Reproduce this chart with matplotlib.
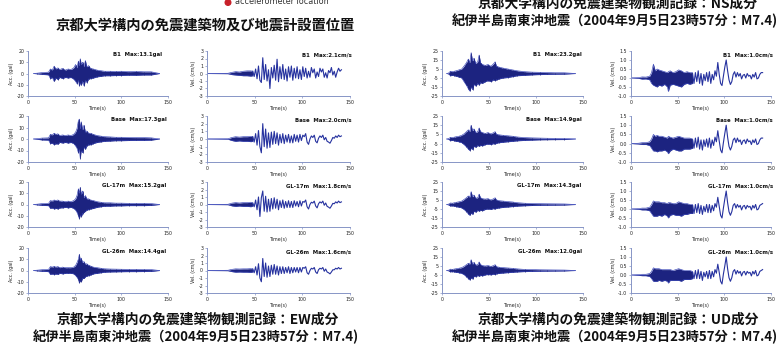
import numpy as np
import matplotlib
matplotlib.use("Agg")
import matplotlib.pyplot as plt
from matplotlib.patches import Circle
from matplotlib.ticker import FormatStrFormatter

# ---------------------------------------------------------------------------
# Record data (EW component, left block)
# ---------------------------------------------------------------------------
T_ACC_EW = [6, 10, 15, 22, 24, 26, 28, 30, 32, 34,
            37, 40, 43, 46, 49, 51, 52.5, 54, 55, 56,
            57, 58.5, 60, 61.5, 63, 65, 67, 70, 74, 78,
            82, 88, 94, 100, 108, 116, 124, 132, 141]

ew_acc_b1_up = [0, 0.3, 0.8, 1.2, 4, 3, 6.5, 4, 5, 3.5,
                4.5, 3, 4, 3.5, 5, 8, 5, 11, 7, 13.1,
                8, 10, 6, 11.5, 6, 7, 4.5, 4, 3, 2.5,
                2, 2, 1.8, 2, 1.6, 1.8, 1.5, 1.5, 0]
ew_acc_b1_lo = [0, -0.3, -0.8, -1.2, -4.5, -3.5, -7, -4, -5.5, -3.5,
                -4.5, -3.5, -4, -3.5, -5, -7, -9, -6, -11, -8,
                -10.5, -7, -11, -6, -8, -5, -4.5, -4, -3, -2.5,
                -2, -2, -1.8, -1.8, -1.5, -1.6, -1.3, -1.3, 0]

ew_acc_base_up = [0, 0.3, 0.8, 1, 4, 3.5, 5, 4, 4.5, 3,
                  3.5, 3, 3.5, 3, 4, 6, 9, 16, 17.3, 9,
                  15, 8, 12, 6, 7, 5, 5, 4, 3, 2.5,
                  2, 1.8, 1.5, 1.5, 1.3, 1.2, 1.2, 1, 0]
ew_acc_base_lo = [0, -0.3, -0.8, -1, -4, -3.5, -5, -4, -4.5, -3,
                  -3.5, -3, -3.5, -3, -4, -6, -8, -12, -9, -17,
                  -10, -12, -7, -9, -6, -5, -5, -4, -3, -2.5,
                  -2, -1.8, -1.5, -1.5, -1.3, -1.2, -1.2, -1, 0]

ew_acc_gl17_up = [0, 0.3, 0.8, 1, 3.5, 3, 4, 3.5, 4, 3,
                  3, 2.5, 3, 2.5, 3.5, 5, 8, 14, 10, 15.2,
                  9, 12, 6, 8, 5, 5, 4, 3.5, 2.5, 2,
                  1.5, 1.5, 1.2, 1.2, 1, 1, 1, 0.8, 0]
ew_acc_gl17_lo = [0, -0.3, -0.8, -1, -3.5, -3, -4, -3.5, -4, -3,
                  -3, -2.5, -3, -2.5, -3.5, -5, -7, -10, -12.6, -9,
                  -11, -8, -7, -6, -5, -4.5, -4, -3.5, -2.5, -2,
                  -1.5, -1.5, -1.2, -1.2, -1, -1, -1, -0.8, 0]

ew_acc_gl26_up = [0, 0.3, 0.7, 1, 3.5, 3, 3.6, 3, 3.5, 2.5,
                  3, 2.5, 2.5, 2.5, 3, 4.5, 7, 10, 14.4, 9,
                  11, 7, 8, 5.5, 6, 4.5, 4, 3, 2.5, 2,
                  1.5, 1.3, 1.2, 1.1, 1, 1, 0.9, 0.8, 0]
ew_acc_gl26_lo = [0, -0.3, -0.7, -1, -3.5, -3, -3.6, -3, -3.5, -2.5,
                  -3, -2.5, -2.5, -2.5, -3, -4.5, -6, -8, -11, -9,
                  -10, -7, -7, -5.5, -5, -4.5, -4, -3, -2.5, -2,
                  -1.5, -1.3, -1.2, -1.1, -1, -1, -0.9, -0.8, 0]

# velocity: small-amplitude envelope before the main phase, then the trace
T_VEL_PRE_EW = [0, 22, 26, 30, 34, 38, 42, 46, 48]
ew_vel_b1_pre_up = [0, 0.03, 0.15, 0.25, 0.2, 0.3, 0.35, 0.35, 0.3]
ew_vel_b1_pre_lo = [0, -0.03, -0.15, -0.2, -0.25, -0.3, -0.3, -0.35, -0.3]
ew_vel_base_pre_up = [0, 0.03, 0.2, 0.3, 0.25, 0.3, 0.3, 0.35, 0.3]
ew_vel_base_pre_lo = [0, -0.03, -0.2, -0.3, -0.25, -0.3, -0.3, -0.35, -0.3]
ew_vel_gl17_pre_up = [0, 0.03, 0.18, 0.25, 0.2, 0.25, 0.25, 0.3, 0.2]
ew_vel_gl17_pre_lo = [0, -0.03, -0.18, -0.25, -0.2, -0.25, -0.25, -0.3, -0.2]
ew_vel_gl26_pre_up = [0, 0.03, 0.15, 0.22, 0.2, 0.22, 0.22, 0.25, 0.2]
ew_vel_gl26_pre_lo = [0, -0.03, -0.15, -0.22, -0.2, -0.22, -0.22, -0.25, -0.2]

T_VEL_EW = np.arange(48, 141.1, 1.5)
ew_vel_b1 = [0.3, -0.4, 0.6, -0.7, 1.0, -0.9, -1.2, 2.1, -0.8, 1.2,
             -1.0, 0.5, -2.0, 0.8, -0.6, 1.1, -0.9, 1.9, -1.1, 0.9,
             -0.7, 1.2, -0.8, 0.6, -1.0, 0.9, -0.5, 1.0, -0.9, 0.7,
             -0.6, 0.9, -0.7, 0.5, -0.8, 0.9, -0.4, 0.7, -0.6, 0.3,
             -0.5, 0.8, 0.1, 0.6, -0.6, 0.2, -0.4, 0.7, 0.2, 0.6,
             -0.5, 0.1, -0.6, 0.4, 0.1, 0.8, -0.2, 0.3, -0.5, 0.2,
             0.7, 0.3, 0.5]
ew_vel_base = [0.3, -0.4, 0.7, -0.8, 1.1, -1.0, -1.8, 2.0, -1.0, 1.3,
               -1.2, 0.8, -1.1, 0.9, -0.7, 1.0, -0.6, 0.8, -0.8, 0.6,
               -0.5, 0.7, -0.6, 0.5, -0.4, 0.6, -0.5, 0.4, -0.5, 0.6,
               -0.3, 0.5, -0.4, 0.6, -0.2, 0.5, 0.3, 0.7, -0.4, -0.7,
               0.0, 0.4, 0.2, 0.5, -0.3, -0.5, 0.1, 0.4, 0.2, 0.5,
               -0.1, 0.2, -0.3, -0.4, -0.55, -0.2, 0.2, 0.1, 0.4, 0.2,
               0.5, 0.3, 0.4]
ew_vel_gl17 = [0.2, -0.3, 0.6, -0.7, 1.0, -1.6, 0.9, 1.8, -0.9, 1.1,
               -1.0, 0.7, -0.9, 0.8, -0.6, 0.9, -0.5, 0.7, -0.7, 0.5,
               -0.4, 0.6, -0.5, 0.4, -0.4, 0.5, -0.4, 0.4, -0.4, 0.5,
               -0.2, 0.4, -0.3, 0.5, -0.2, 0.4, 0.3, 0.6, -0.3, -0.6,
               0.0, 0.3, 0.2, 0.45, -0.2, -0.45, 0.1, 0.35, 0.2, 0.45,
               -0.1, 0.2, -0.25, -0.35, -0.5, -0.2, 0.15, 0.1, 0.35, 0.2,
               0.45, 0.25, 0.35]
ew_vel_gl26 = [0.2, -0.3, 0.5, -0.6, 0.9, -1.0, -1.5, 1.6, -0.8, 1.0,
               -0.9, 0.6, -0.8, 0.7, -0.5, 0.8, -0.5, 0.6, -0.6, 0.5,
               -0.4, 0.5, -0.4, 0.4, -0.3, 0.5, -0.4, 0.4, -0.3, 0.4,
               -0.2, 0.4, -0.3, 0.4, -0.2, 0.4, 0.3, 0.5, -0.3, -0.5,
               0.0, 0.3, 0.2, 0.4, -0.2, -0.4, 0.1, 0.3, 0.2, 0.4,
               -0.1, 0.2, -0.2, -0.3, -0.45, -0.2, 0.1, 0.1, 0.3, 0.2,
               0.4, 0.2, 0.3]

# ---------------------------------------------------------------------------
# Record data (right block)
# ---------------------------------------------------------------------------
T_ACC_UD = [5, 7, 9, 11, 13, 15, 18, 21, 24, 26,
            28, 29.5, 31, 32.5, 34, 36, 38, 39.5, 41, 43,
            46, 49, 52, 55, 56.5, 58, 61, 65, 70, 75,
            80, 88, 96, 104, 112, 120, 130, 142]

ud_acc_b1_up = [0, 0.5, 2.5, 2, 2.5, 3, 4, 5, 9, 12,
                16, 12, 23.2, 14, 17, 11, 13, 20.5, 12, 10,
                9, 10, 8, 11, 13, 8, 7, 6, 5, 4,
                3, 2, 1.5, 1.3, 1, 0.8, 0.8, 0]
ud_acc_b1_lo = [0, -0.5, -2.5, -2, -2.5, -3, -4, -5, -10, -13,
                -17, -19.5, -15, -18, -12, -14, -11, -13, -10, -11,
                -9, -8, -9, -7, -8, -7, -6, -5, -4.5, -3.5,
                -2.5, -2, -1.5, -1.2, -1, -0.8, -0.7, 0]
ud_acc_base_up = [0, 0.4, 1.8, 1.5, 2, 2.5, 3, 4, 6, 8,
                  10, 8, 14.9, 9, 11, 7, 8, 12, 8, 7,
                  6, 7, 5.5, 7, 8, 5, 4.5, 4, 3.5, 3,
                  2.2, 1.5, 1.2, 1, 0.8, 0.7, 0.6, 0]
ud_acc_base_lo = [0, -0.4, -1.8, -1.5, -2, -2.5, -3, -4, -6.5, -8.5,
                  -11, -12.5, -10, -11.5, -8, -9, -7, -8, -7, -7.5,
                  -6, -5.5, -6, -5, -5.5, -4.5, -4, -3.5, -3, -2.5,
                  -2, -1.5, -1.2, -0.9, -0.8, -0.7, -0.6, 0]
ud_acc_gl17_up = [0, 0.4, 1.7, 1.4, 1.9, 2.4, 3, 3.8, 6, 7.5,
                  9.5, 8, 14.3, 8.5, 10.5, 7, 7.5, 11.5, 7.5, 6.5,
                  6, 6.5, 5, 6.5, 7.5, 5, 4.2, 3.8, 3.2, 2.8,
                  2, 1.4, 1.1, 0.9, 0.8, 0.7, 0.6, 0]
ud_acc_gl17_lo = [0, -0.4, -1.7, -1.4, -1.9, -2.4, -3, -3.8, -6, -8,
                  -10.5, -12, -9.5, -11, -7.5, -8.5, -6.5, -7.5, -6.5, -7,
                  -5.5, -5, -5.5, -4.5, -5, -4.2, -3.8, -3.2, -2.8, -2.3,
                  -1.8, -1.4, -1.1, -0.9, -0.8, -0.7, -0.6, 0]
ud_acc_gl26_up = [0, 0.3, 1.5, 1.2, 1.6, 2, 2.5, 3.2, 5, 6.5,
                  8, 7, 12.0, 7, 9, 6, 6.5, 9.5, 6.5, 5.5,
                  5, 5.5, 4.5, 5.5, 6.5, 4.2, 3.6, 3.2, 2.8, 2.4,
                  1.8, 1.2, 1, 0.8, 0.7, 0.6, 0.5, 0]
ud_acc_gl26_lo = [0, -0.3, -1.5, -1.2, -1.6, -2, -2.5, -3.2, -5, -7,
                  -9, -10.5, -8, -9.5, -6.5, -7, -5.5, -6.5, -5.5, -6,
                  -4.8, -4.5, -4.8, -4, -4.5, -3.6, -3.2, -2.8, -2.4, -2,
                  -1.6, -1.2, -1, -0.8, -0.7, -0.6, -0.5, 0]

T_VEL_PRE_UD = [0, 8, 12, 16, 20, 22, 24, 26, 28, 30,
                33, 36, 39, 40, 42, 45, 48, 51, 54, 57,
                60, 63, 66]
ud_vel_b1_pre_up = [0, 0.02, 0.06, 0.05, 0.1, 0.3, 0.77, 0.4, 0.5, 0.45,
                    0.4, 0.35, 0.3, 0.35, 0.4, 0.3, 0.35, 0.45, 0.4, 0.3,
                    0.35, 0.3, 0.3]
ud_vel_b1_pre_lo = [0, -0.02, -0.06, -0.05, -0.1, -0.3, -0.4, -0.45, -0.5, -0.4,
                    -0.45, -0.35, -0.5, -0.75, -0.4, -0.35, -0.4, -0.45, -0.5, -0.35,
                    -0.3, -0.35, -0.3]
ud_vel_base_pre_up = [0, 0.02, 0.05, 0.05, 0.1, 0.25, 0.5, 0.4, 0.45, 0.4,
                      0.4, 0.35, 0.3, 0.4, 0.35, 0.3, 0.35, 0.4, 0.35, 0.3,
                      0.3, 0.3, 0.25]
ud_vel_base_pre_lo = [0, -0.02, -0.05, -0.05, -0.1, -0.25, -0.4, -0.4, -0.45, -0.4,
                      -0.4, -0.35, -0.45, -0.55, -0.4, -0.3, -0.35, -0.4, -0.4, -0.3,
                      -0.3, -0.3, -0.25]
ud_vel_gl17_pre_up = [0, 0.02, 0.05, 0.05, 0.1, 0.25, 0.45, 0.4, 0.4, 0.4,
                      0.35, 0.35, 0.3, 0.35, 0.35, 0.3, 0.3, 0.4, 0.35, 0.3,
                      0.3, 0.25, 0.25]
ud_vel_gl17_pre_lo = [0, -0.02, -0.05, -0.05, -0.1, -0.25, -0.4, -0.4, -0.4, -0.35,
                      -0.4, -0.3, -0.4, -0.5, -0.35, -0.3, -0.35, -0.35, -0.4, -0.3,
                      -0.3, -0.25, -0.25]
ud_vel_gl26_pre_up = [0, 0.02, 0.04, 0.04, 0.08, 0.2, 0.4, 0.35, 0.35, 0.35,
                      0.3, 0.3, 0.3, 0.3, 0.3, 0.25, 0.3, 0.35, 0.3, 0.25,
                      0.25, 0.25, 0.2]
ud_vel_gl26_pre_lo = [0, -0.02, -0.04, -0.04, -0.08, -0.2, -0.35, -0.35, -0.35, -0.3,
                      -0.35, -0.3, -0.35, -0.45, -0.3, -0.3, -0.3, -0.3, -0.35, -0.25,
                      -0.25, -0.25, -0.2]

T_VEL_UD = np.arange(66, 141.1, 1.5)
ud_vel_b1 = [0.2, -0.3, 0.3, -0.2, 0.4, -0.3, 0.25, -0.4, 0.2, -0.15,
             0.3, -0.2, 0.35, -0.3, 0.2, -0.1, 0.4, 0.1, 0.86, 0.2,
             -0.3, -0.42, 0.1, 0.6, 1.0, 0.4, -0.1, -0.36, -0.2, 0.2,
             0.35, 0.05, 0.3, 0.1, 0.25, -0.05, 0.15, 0.2, 0.0, 0.25,
             0.1, 0.15, -0.05, 0.2, 0.05, 0.3, -0.05, 0.0, 0.2, 0.3,
             0.3]
ud_vel_base = [0.2, -0.25, 0.3, -0.2, 0.35, -0.3, 0.2, -0.35, 0.2, -0.15,
               0.25, -0.2, 0.3, -0.25, 0.2, -0.1, 0.35, 0.1, 0.7, 0.15,
               -0.35, -0.5, 0.05, 0.55, 1.0, 0.35, -0.15, -0.35, -0.15, 0.2,
               0.3, 0.05, 0.3, 0.1, 0.2, -0.05, 0.15, 0.2, 0.0, 0.25,
               0.1, 0.15, -0.05, 0.2, 0.05, 0.25, -0.05, 0.0, 0.2, 0.3,
               0.3]
ud_vel_gl17 = [0.2, -0.25, 0.25, -0.2, 0.3, -0.25, 0.2, -0.3, 0.15, -0.15,
               0.25, -0.2, 0.25, -0.2, 0.2, -0.1, 0.3, 0.1, 0.65, 0.15,
               -0.35, -0.5, 0.05, 0.55, 1.0, 0.35, -0.15, -0.35, -0.15, 0.2,
               0.3, 0.05, 0.25, 0.1, 0.2, -0.05, 0.15, 0.2, 0.0, 0.2,
               0.1, 0.15, -0.05, 0.2, 0.05, 0.25, -0.05, 0.0, 0.2, 0.25,
               0.3]
ud_vel_gl26 = [0.15, -0.2, 0.25, -0.2, 0.3, -0.2, 0.2, -0.3, 0.15, -0.1,
               0.2, -0.2, 0.25, -0.2, 0.2, -0.1, 0.3, 0.1, 0.6, 0.15,
               -0.35, -0.5, 0.05, 0.5, 1.0, 0.35, -0.15, -0.35, -0.15, 0.2,
               0.3, 0.05, 0.25, 0.1, 0.2, -0.05, 0.15, 0.2, 0.0, 0.2,
               0.1, 0.15, -0.05, 0.2, 0.05, 0.25, -0.05, 0.0, 0.2, 0.25,
               0.3]

LEVELS = ["B1", "Base", "GL-17m", "GL-26m"]

TITLE_TOP = "京都大学構内の免震建築物及び地震計設置位置"
TITLE_NS = "京都大学構内の免震建築物観測記録：NS成分"
TITLE_EW = "京都大学構内の免震建築物観測記録：EW成分"
TITLE_UD = "京都大学構内の免震建築物観測記録：UD成分"
EVENT = "紀伊半島南東沖地震（2004年9月5日23時57分：M7.4)"
LEGEND_TEXT = "accelerometer location"

# ---------------------------------------------------------------------------
# Styling
# ---------------------------------------------------------------------------
W, H = 776, 350
NAVY = "#1c2380"
EDGE = "#3946b8"
LINE = "#26329f"
AXC = "#8795c6"
JP = ["Noto Sans CJK JP", "DejaVu Sans"]

fig = plt.figure(figsize=(W / 100, H / 100), dpi=100)

# pixel-space layer for titles and the legend marker
over = fig.add_axes([0, 0, 1, 1])
over.set_xlim(0, W)
over.set_ylim(H, 0)
over.axis("off")


def panel(x0, x1, top, bot):
    return fig.add_axes([x0 / W, 1 - bot / H, (x1 - x0) / W, (bot - top) / H])


def style(ax, ylim, yticks, fmt, ylabel):
    ax.set_xlim(0, 150)
    ax.set_ylim(*ylim)
    ax.patch.set_alpha(0)
    for s in ("top", "right"):
        ax.spines[s].set_visible(False)
    for s in ("left", "bottom"):
        ax.spines[s].set_color(AXC)
        ax.spines[s].set_linewidth(0.7)
    ax.set_xticks([0, 50, 100, 150])
    ax.set_yticks(yticks)
    ax.yaxis.set_major_formatter(FormatStrFormatter(fmt))
    ax.tick_params(axis="both", length=1.5, width=0.5, color=AXC,
                   labelsize=3.4, pad=1.2, labelcolor="#222222")
    ax.set_xlabel("Time(s)", fontsize=3.4, labelpad=1, color="#222222")
    ax.set_ylabel(ylabel, fontsize=3.4, labelpad=1.5, color="#222222")


def acc_panel(ax, t, up, lo, name, ylim, yticks, xr):
    ax.fill_between(t, lo, up, color=NAVY, lw=0)
    ax.plot(t, up, color=EDGE, lw=0.45)
    ax.plot(t, lo, color=EDGE, lw=0.45)
    ax.vlines(t, lo, up, color=NAVY, lw=0.5)
    style(ax, ylim, yticks, "%d", "Acc. (gal)")
    peak = max(max(up), -min(lo))
    ax.text(xr, 0.92, f"{name}  Max:{peak:.1f}gal", transform=ax.transAxes,
            ha="right", va="center", fontsize=3.9, fontweight="bold",
            color="#111111", clip_on=False)


def vel_panel(ax, tp, up, lo, tw, w, name, ylim, yticks, fmt, xr):
    ax.fill_between(tp, lo, up, color=NAVY, lw=0)
    ax.plot(tp, up, color=EDGE, lw=0.45)
    ax.plot(tp, lo, color=EDGE, lw=0.45)
    ax.plot(tw, w, color=LINE, lw=0.8)
    style(ax, ylim, yticks, fmt, "Vel. (cm/s)")
    peak = max(max(up), -min(lo), max(w), -min(w))
    ax.text(xr, 0.92, f"{name}  Max:{peak:.1f}cm/s", transform=ax.transAxes,
            ha="right", va="center", fontsize=3.9, fontweight="bold",
            color="#111111", clip_on=False)


ROWS = [(51, 96), (116, 162), (182, 227), (248, 293)]

ew_acc = [(ew_acc_b1_up, ew_acc_b1_lo), (ew_acc_base_up, ew_acc_base_lo),
          (ew_acc_gl17_up, ew_acc_gl17_lo), (ew_acc_gl26_up, ew_acc_gl26_lo)]
ew_vel = [(ew_vel_b1_pre_up, ew_vel_b1_pre_lo, ew_vel_b1),
          (ew_vel_base_pre_up, ew_vel_base_pre_lo, ew_vel_base),
          (ew_vel_gl17_pre_up, ew_vel_gl17_pre_lo, ew_vel_gl17),
          (ew_vel_gl26_pre_up, ew_vel_gl26_pre_lo, ew_vel_gl26)]
ud_acc = [(ud_acc_b1_up, ud_acc_b1_lo), (ud_acc_base_up, ud_acc_base_lo),
          (ud_acc_gl17_up, ud_acc_gl17_lo), (ud_acc_gl26_up, ud_acc_gl26_lo)]
ud_vel = [(ud_vel_b1_pre_up, ud_vel_b1_pre_lo, ud_vel_b1),
          (ud_vel_base_pre_up, ud_vel_base_pre_lo, ud_vel_base),
          (ud_vel_gl17_pre_up, ud_vel_gl17_pre_lo, ud_vel_gl17),
          (ud_vel_gl26_pre_up, ud_vel_gl26_pre_lo, ud_vel_gl26)]

for i, (top, bot) in enumerate(ROWS):
    name = LEVELS[i]
    up, lo = ew_acc[i]
    acc_panel(panel(28, 168, top, bot), T_ACC_EW, up, lo, name,
              (-20, 20), [-20, -10, 0, 10, 20], 0.96 if i == 0 else 0.99)
    pu, pl, w = ew_vel[i]
    vel_panel(panel(207, 350, top, bot), T_VEL_PRE_EW, pu, pl, T_VEL_EW, w,
              name, (-3, 3), [-3, -2, -1, 0, 1, 2, 3], "%d", 1.01)
    up, lo = ud_acc[i]
    acc_panel(panel(442, 583, top, bot), T_ACC_UD, up, lo, name,
              (-25, 25), [-25, -15, -5, 5, 15, 25], 0.99)
    pu, pl, w = ud_vel[i]
    vel_panel(panel(631, 771, top, bot), T_VEL_PRE_UD, pu, pl, T_VEL_UD, w,
              name, (-1.0, 1.5), [-1.0, -0.5, 0.0, 0.5, 1.0, 1.5], "%.1f", 1.014)

# titles
t1 = dict(family=JP, fontweight="bold", color="#111111", fontsize=9.9)
t2 = dict(family=JP, fontweight="bold", color="#111111", fontsize=9.5)
over.text(205, 25, TITLE_TOP, ha="center", va="center",
          **dict(t1, fontsize=10.3))
over.text(618, 4, TITLE_NS, ha="center", va="center", **t1)
over.text(452, 21, EVENT, ha="left", va="center", **t2)
over.text(198, 320, TITLE_EW, ha="center", va="center", **t1)
over.text(33, 337, EVENT, ha="left", va="center", **t2)
over.text(618, 320, TITLE_UD, ha="center", va="center", **t1)
over.text(452, 337, EVENT, ha="left", va="center", **t2)

# legend marker for the accelerometer positions
over.add_patch(Circle((228, 2.5), 2.8, color="#c8202a", zorder=5))
over.text(235, 2, LEGEND_TEXT, ha="left", va="center", fontsize=5.8,
          color="#333333", family="DejaVu Sans")

fig.savefig("out.png", dpi=100)
